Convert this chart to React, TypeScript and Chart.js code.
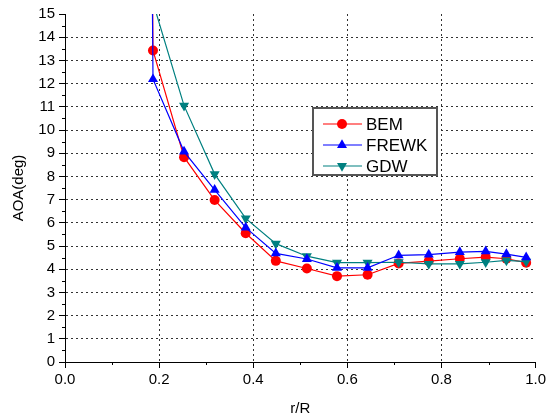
import React, { useEffect, useRef } from 'react';
import { Chart, registerables } from 'chart.js';

Chart.register(...registerables);

// r/R positions (first point lies above the plotted range)
const rR = [0.18, 0.187, 0.253, 0.318, 0.384, 0.448, 0.514, 0.578, 0.643, 0.709, 0.773, 0.839, 0.894, 0.938, 0.98];
const bem = [30, 13.43, 8.83, 6.98, 5.55, 4.36, 4.03, 3.7, 3.76, 4.25, 4.35, 4.45, 4.52, 4.45, 4.28];
const frewk = [30, 12.19, 9.07, 7.42, 5.79, 4.68, 4.44, 4.06, 4.06, 4.6, 4.63, 4.74, 4.77, 4.65, 4.51];
const gdw = [30, 15.5, 11.05, 8.1, 6.19, 5.1, 4.56, 4.28, 4.28, 4.3, 4.23, 4.23, 4.3, 4.38, 4.33];

const seriesNames = ['BEM', 'FREWK', 'GDW'];
const seriesColors = ['#ff0000', '#0000ff', '#008080'];
const xTitle = 'r/R';
const yTitle = 'AOA(deg)';

const FONT = "'Liberation Sans', Arial, sans-serif";

export default function App() {
  const ref = useRef<HTMLCanvasElement>(null);

  useEffect(() => {
    document.body.style.margin = '0';
    const canvas = ref.current!;

    const minorTicks = {
      id: 'minorTicks',
      afterDraw(chart: any) {
        const { ctx, chartArea } = chart;
        const xs = chart.scales.x;
        const ys = chart.scales.y;
        ctx.save();
        ctx.strokeStyle = '#000';
        ctx.lineWidth = 1;
        ctx.beginPath();
        for (let i = 1; i < 10; i += 2) {
          const px = Math.round(xs.getPixelForValue(i / 10)) + 0.5;
          ctx.moveTo(px, chartArea.bottom);
          ctx.lineTo(px, chartArea.bottom + 3);
        }
        for (let i = 0; i < 15; i++) {
          const py = Math.round(ys.getPixelForValue(i + 0.5)) + 0.5;
          ctx.moveTo(chartArea.left - 3, py);
          ctx.lineTo(chartArea.left, py);
        }
        ctx.stroke();
        ctx.restore();
      },
    };

    const legendBox = {
      id: 'legendBox',
      afterDraw(chart: any) {
        const { ctx, chartArea } = chart;
        const L = chartArea.left + 248;
        const T = chartArea.top + 94;
        const W = 124;
        const H = 67;
        ctx.save();
        ctx.fillStyle = '#ffffff';
        ctx.fillRect(L, T, W, H);
        ctx.strokeStyle = '#555';
        ctx.lineWidth = 2;
        ctx.strokeRect(L, T, W, H);
        chart.data.datasets.forEach((ds: any, i: number) => {
          const cy = T + 16 + i * 21;
          ctx.strokeStyle = ds.borderColor;
          ctx.lineWidth = 1.2;
          ctx.beginPath();
          ctx.moveTo(L + 10, cy);
          ctx.lineTo(L + 49, cy);
          ctx.stroke();
          ctx.fillStyle = ds.backgroundColor;
          const mx = L + 29;
          ctx.beginPath();
          if (ds.pointStyle === 'circle') {
            ctx.arc(mx, cy, 5, 0, Math.PI * 2);
          } else {
            const r = 5.8;
            const rot = ((ds.pointRotation || 0) * Math.PI) / 180;
            for (let k = 0; k < 3; k++) {
              const a = rot - Math.PI / 2 + (k * 2 * Math.PI) / 3;
              const px = mx + Math.cos(a) * r;
              const py = cy + Math.sin(a) * r;
              if (k === 0) ctx.moveTo(px, py);
              else ctx.lineTo(px, py);
            }
            ctx.closePath();
          }
          ctx.fill();
          ctx.fillStyle = '#000';
          ctx.font = `17px ${FONT}`;
          ctx.textBaseline = 'middle';
          ctx.textAlign = 'left';
          ctx.fillText(ds.label, L + 53, cy + 1);
        });
        ctx.restore();
      },
    };

    const mk = (i: number, vals: number[], style: string, rot: number, radius: number, order: number) => ({
      label: seriesNames[i],
      data: rR.map((x, k) => ({ x, y: vals[k] })),
      borderColor: seriesColors[i],
      backgroundColor: seriesColors[i],
      pointBackgroundColor: seriesColors[i],
      pointBorderColor: seriesColors[i],
      pointBorderWidth: 0,
      pointStyle: style,
      pointRotation: rot,
      pointRadius: radius,
      borderWidth: 1.2,
      tension: 0,
      order,
    });

    const isEdge = (v: number, lo: number, hi: number) => Math.abs(v - lo) < 1e-6 || Math.abs(v - hi) < 1e-6;

    const chart = new Chart(canvas, {
      type: 'line',
      data: {
        datasets: [
          mk(0, bem, 'circle', 0, 5, 3),
          mk(1, frewk, 'triangle', 0, 5.8, 1),
          mk(2, gdw, 'triangle', 180, 5.8, 2),
        ] as any,
      },
      options: {
        responsive: false,
        animation: false,
        events: [],
        layout: { padding: { top: 14, right: 13, left: 0, bottom: 0 } },
        plugins: { legend: { display: false }, tooltip: { enabled: false } },
        scales: {
          x: {
            type: 'linear',
            min: 0,
            max: 1,
            afterFit: (s: any) => {
              s.height = 57;
            },
            ticks: {
              stepSize: 0.2,
              autoSkip: false,
              maxRotation: 0,
              padding: 3,
              color: '#000',
              font: { family: FONT, size: 15 },
              callback: (v: any) => Number(v).toFixed(1),
            },
            grid: {
              color: (c: any) => (c.tick && isEdge(c.tick.value, 0, 1) ? 'transparent' : '#333'),
              lineWidth: 1,
              tickColor: '#000',
              tickLength: 6,
            },
            border: { display: true, color: '#000', width: 1, dash: [2, 3] },
            title: {
              display: true,
              text: xTitle,
              color: '#000',
              font: { family: FONT, size: 15 },
              padding: { top: 0, bottom: 1 },
            },
          },
          y: {
            type: 'linear',
            min: 0,
            max: 15,
            afterFit: (s: any) => {
              s.width = 65;
            },
            ticks: {
              stepSize: 1,
              autoSkip: false,
              padding: 4,
              color: '#000',
              font: { family: FONT, size: 15 },
            },
            grid: {
              color: (c: any) => (c.tick && isEdge(c.tick.value, 0, 15) ? 'transparent' : '#333'),
              lineWidth: 1,
              tickColor: '#000',
              tickLength: 6,
            },
            border: { display: true, color: '#000', width: 1, dash: [2, 3] },
            title: {
              display: true,
              text: yTitle,
              color: '#000',
              font: { family: FONT, size: 15 },
              padding: { top: 10, bottom: 0 },
            },
          },
        },
      },
      plugins: [minorTicks, legendBox],
    } as any);

    return () => chart.destroy();
  }, []);

  return <canvas ref={ref} width={549} height={419} style={{ display: 'block' }} />;
}
